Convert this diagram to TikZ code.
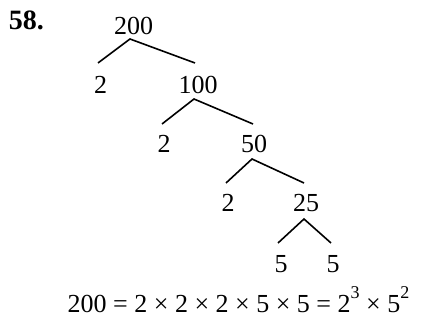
\documentclass[tikz,border=0pt]{standalone}
\usepackage{fontspec}
\setmainfont{Liberation Serif}
\newcommand{\supnum}[1]{\raisebox{14pt}{\fontsize{18}{18}\selectfont #1}}
\begin{document}
\begin{tikzpicture}[x=1pt,y=-1pt,
  num/.style={anchor=base, inner sep=0pt, font=\fontsize{26}{30}\selectfont},
  branch/.style={line width=1.6pt}]
\useasboundingbox (0,0) rectangle (421,320);
\node[num, font=\fontsize{28}{32}\selectfont\bfseries] (lbl) at (26.5,30) {58.};
% numbers
\node[num] (n200) at (133.5,35) {200};
\node[num] (a2) at (100.5,94) {2};
\node[num] (n100) at (198,94) {100};
\node[num] (b2) at (164,153) {2};
\node[num] (n50) at (254,153) {50};
\node[num] (c2) at (228,212) {2};
\node[num] (n25) at (306,212) {25};
\node[num] (d5) at (281,273) {5};
\node[num] (e5) at (333,273) {5};
% branch points
\coordinate (t1) at (130,39);  \coordinate (l1) at (98,63);  \coordinate (r1) at (195,63);
\coordinate (t2) at (194,99);  \coordinate (l2) at (162,124); \coordinate (r2) at (253,124);
\coordinate (t3) at (252,159); \coordinate (l3) at (226,183); \coordinate (r3) at (304,183);
\coordinate (t4) at (304,219); \coordinate (l4) at (278,243); \coordinate (r4) at (331,243);
\draw[branch] (l1) -- (t1) -- (r1);
\draw[branch] (l2) -- (t2) -- (r2);
\draw[branch] (l3) -- (t3) -- (r3);
\draw[branch] (l4) -- (t4) -- (r4);
% equation
\node[num] (eq) at (238.5,313) {200 = 2 × 2 × 2 × 5 × 5 = 2\supnum{3} × 5\supnum{2}};
\end{tikzpicture}
\end{document}
